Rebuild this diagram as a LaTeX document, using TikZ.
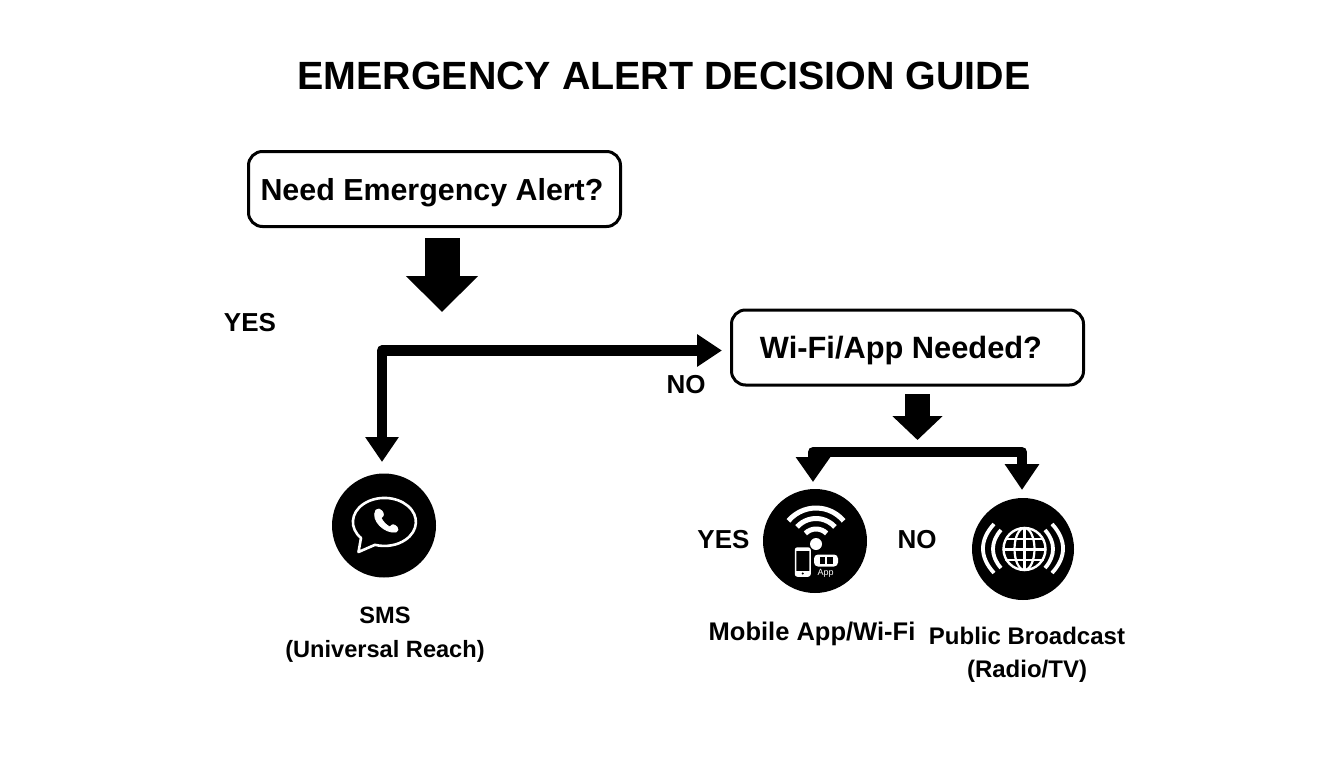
\documentclass[tikz,border=0pt]{standalone}
\usepackage{fontspec}
\setmainfont{Liberation Sans}
\usetikzlibrary{arrows.meta}
\tikzset{
  x=1pt,y=-1pt,
  titletext/.style={font=\fontsize{39.4}{41}\selectfont\bfseries,inner sep=0pt},
  question/.style={draw=black,line width=3pt,rounded corners=14pt,fill=white,font=\fontsize{30.4}{30}\selectfont\bfseries,inner sep=0pt,align=center},
  lab/.style={font=\fontsize{26}{26}\selectfont\bfseries,inner sep=0pt},
  caption/.style={font=\bfseries,inner sep=0pt,align=center},
  disc/.style={circle,fill=black,inner sep=0pt},
  glyph/.style={draw=white,line cap=round,line join=round},
  flow/.style={draw=black,line join=round},
}
\begin{document}
\begin{tikzpicture}
\useasboundingbox[fill=white] (0,0) rectangle (1344,768);
\node[titletext] (title) at (664,76) {EMERGENCY ALERT DECISION GUIDE};
\node[question,minimum width=372pt,minimum height=75pt] (q1) at (434.5,189) {\hspace*{-5pt}\smash{\raisebox{-11pt}{Need Emergency Alert?}}};
\node[question,font=\fontsize{30.8}{30}\selectfont\bfseries,minimum width=352pt,minimum height=75pt] (q2) at (907.5,347.5) {\hspace*{-13pt}\smash{\raisebox{-11pt}{Wi-Fi/App Needed?}}};
\node[lab] (yes1) at (250,323) {YES};
\node[lab] (no1) at (686,385) {NO};
\node[lab] (yes2) at (723.5,540) {YES};
\node[lab] (no2) at (917,540) {NO};
\node[disc,minimum size=104pt] (sms) at (384,525.5) {};
\node[disc,minimum size=104pt] (app) at (815,541) {};
\node[disc,minimum size=102pt] (radio) at (1023,549) {};
\node[caption,font=\fontsize{23.6}{34}\selectfont\bfseries] (smst) at (385,635) {SMS\\(Universal Reach)};
\node[caption,font=\fontsize{25.5}{30}\selectfont\bfseries] (appt) at (812,634) {Mobile App/Wi-Fi};
\node[caption,font=\fontsize{24}{33}\selectfont\bfseries] (radiot) at (1027,655) {Public Broadcast\\(Radio/TV)};
% connectors
\coordinate (a1s) at (442,238);
\coordinate (a1e) at (442,312);
\coordinate (hub) at (382,350.5);
\coordinate (a2e) at (722,350.5);
\coordinate (a3e) at (382,462);
\coordinate (b1s) at (917.5,394);
\coordinate (b1e) at (917.5,440);
\coordinate (barl) at (813,452);
\coordinate (barr) at (1022,452);
\coordinate (b2e) at (813,482);
\coordinate (b3e) at (1022,490);
\draw[flow,line width=35pt,-{Triangle[width=70pt,length=36pt]}] (a1s) -- (a1e);
\draw[flow,line width=10.5pt,{Triangle[width=32pt,length=25pt]}-{Triangle[width=31pt,length=25pt]}] (a3e) -- (hub) -- (a2e);
\draw[flow,line width=25pt,-{Triangle[width=49pt,length=24pt]}] (b1s) -- (b1e);
\draw[flow,line width=10pt,{Triangle[width=33pt,length=25pt]}-{Triangle[width=33pt,length=26pt]}] (b2e) -- (barl) -- (barr) -- (b3e);
% SMS icon
\draw[glyph,line width=2.6pt] (361,538) arc[start angle=138,end angle=467.5,x radius=31.5,y radius=24] -- (358.5,552) -- cycle;
\fill[white,draw=white,line width=0.8pt,line join=round] (376,510) .. controls (378,508) and (380,509) .. (382,511) .. controls (384,514) and (384,516) .. (381,518)
  .. controls (384,523) and (386,525) .. (390,527) .. controls (392,524) and (394,524) .. (397,527)
  .. controls (399,529) and (398,531) .. (396,532) .. controls (385,534) and (370,520) .. (376,510) -- cycle;
% Wi-Fi icon
\draw[glyph,line width=5pt,line cap=butt] (816,544) ++(220:36) arc[start angle=220,end angle=320,radius=36];
\draw[glyph,line width=5pt,line cap=butt] (816,544) ++(222:25.5) arc[start angle=222,end angle=318,radius=25.5];
\draw[glyph,line width=5pt,line cap=butt] (816,544) ++(225:15) arc[start angle=225,end angle=315,radius=15];
\fill[white] (816,544) circle[radius=6];
\draw[white,line width=1.5pt,rounded corners=2pt] (795.5,548) rectangle (810,576);
\fill[white] (795.5,548) rectangle (810,551);
\fill[white] (795.5,571) rectangle (810,576);
\fill[black] (802.7,573.5) circle[radius=1.1];
\fill[white,rounded corners=4pt] (814,554.5) rectangle (838,566.5);
\fill[black] (819.5,557) rectangle (832.5,564);
\fill[white] (825,556.5) rectangle (827,564.5);
\node[font=\fontsize{9}{9}\selectfont,text=white,inner sep=0pt] (apptag) at (825.5,573) {App};
% Broadcast icon
\draw[glyph,line width=2.4pt] (1024.5,549) circle[radius=21];
\draw[glyph,line width=2.2pt] (1024.5,549) ellipse[x radius=10,y radius=21];
\draw[glyph,line width=2.2pt] (1024.5,528) -- (1024.5,570);
\draw[glyph,line width=2.2pt] (1003.5,549.5) -- (1045.5,549.5);
\draw[glyph,line width=2.2pt] (1006,539) -- (1043,539);
\draw[glyph,line width=2.2pt] (1006,560) -- (1043,560);
\draw[glyph,line width=3.8pt,line cap=butt] (1001,530) .. controls (990.3,542) and (990.3,556) .. (1001,568);
\draw[glyph,line width=3.8pt,line cap=butt] (994,524) .. controls (979.3,540) and (979.3,557) .. (994,573);
\draw[glyph,line width=3.8pt,line cap=butt] (1045,530) .. controls (1055.7,542) and (1055.7,556) .. (1045,568);
\draw[glyph,line width=3.8pt,line cap=butt] (1052,524) .. controls (1066.7,540) and (1066.7,557) .. (1052,573);
\end{tikzpicture}
\end{document}
